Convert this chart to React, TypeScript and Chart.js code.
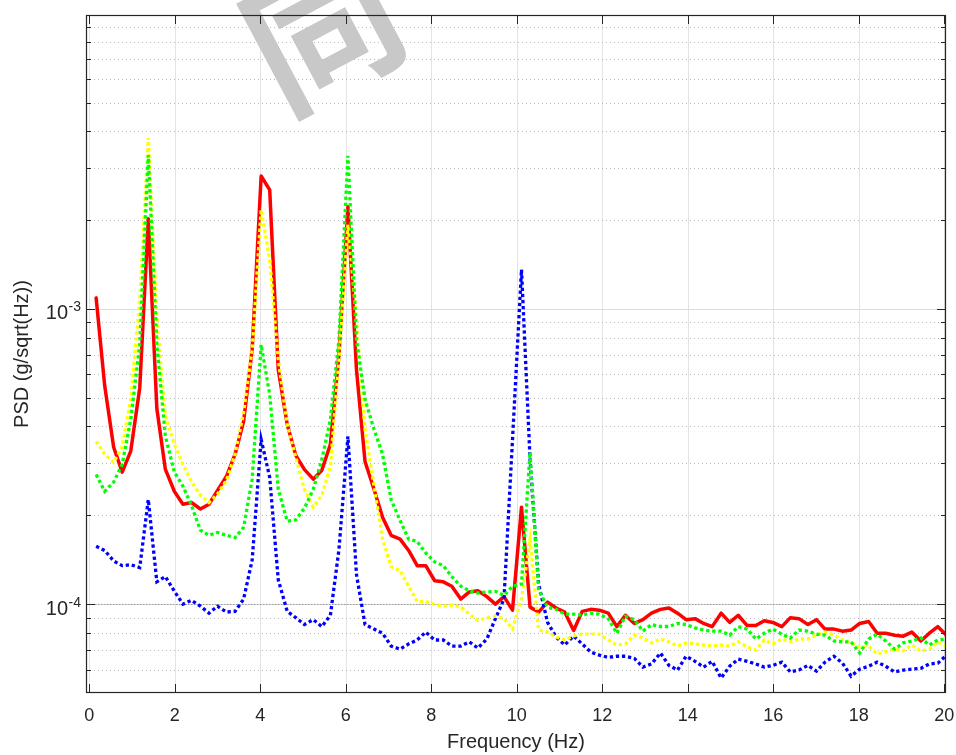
import React, { useEffect, useRef } from 'react';
import { Chart, registerables } from 'chart.js';

Chart.register(...registerables);

const FONT = '"Liberation Sans", Arial, Helvetica, sans-serif';

// Frequency bins (Hz)
const freqHz = [
  0.16, 0.36, 0.57, 0.77, 0.97, 1.18, 1.38, 1.58, 1.78, 1.99,
  2.19, 2.39, 2.60, 2.80, 3.00, 3.21, 3.41, 3.61, 3.81, 4.02,
  4.22, 4.42, 4.63, 4.83, 5.03, 5.24, 5.44, 5.64, 5.84, 6.05,
  6.25, 6.45, 6.66, 6.86, 7.06, 7.27, 7.47, 7.67, 7.87, 8.08,
  8.28, 8.48, 8.69, 8.89, 9.09, 9.30, 9.50, 9.70, 9.90, 10.11,
  10.31, 10.51, 10.72, 10.92, 11.12, 11.33, 11.53, 11.73, 11.93, 12.14,
  12.34, 12.54, 12.75, 12.95, 13.15, 13.36, 13.56, 13.76, 13.96, 14.17,
  14.37, 14.57, 14.78, 14.98, 15.18, 15.39, 15.59, 15.79, 15.99, 16.20,
  16.40, 16.60, 16.81, 17.01, 17.21, 17.42, 17.62, 17.82, 18.02, 18.23,
  18.43, 18.63, 18.84, 19.04, 19.24, 19.45, 19.65, 19.85, 20.05,
];

// PSD (g/sqrt(Hz)) - red solid
const psdRed = [
  10.9e-4, 5.5e-4, 3.4e-4, 2.8e-4, 3.3e-4, 5.4e-4, 20.2e-4, 4.6e-4, 2.86e-4, 2.41e-4,
  2.18e-4, 2.21e-4, 2.10e-4, 2.18e-4, 2.43e-4, 2.71e-4, 3.22e-4, 4.16e-4, 7.29e-4, 28.2e-4,
  25.3e-4, 6.23e-4, 4.06e-4, 3.19e-4, 2.86e-4, 2.65e-4, 2.84e-4, 3.48e-4, 7.01e-4, 22.2e-4,
  6.23e-4, 3.04e-4, 2.45e-4, 1.97e-4, 1.71e-4, 1.66e-4, 1.52e-4, 1.35e-4, 1.35e-4, 1.20e-4,
  1.19e-4, 1.15e-4, 1.04e-4, 1.10e-4, 1.11e-4, 1.06e-4, 1.00e-4, 1.06e-4, 0.954e-4, 2.13e-4,
  0.977e-4, 0.94e-4, 1.016e-4, 0.97e-4, 0.94e-4, 0.814e-4, 0.945e-4, 0.96e-4, 0.954e-4, 0.932e-4,
  0.839e-4, 0.917e-4, 0.86e-4, 0.886e-4, 0.932e-4, 0.96e-4, 0.97e-4, 0.932e-4, 0.886e-4, 0.893e-4,
  0.86e-4, 0.839e-4, 0.932e-4, 0.867e-4, 0.917e-4, 0.846e-4, 0.846e-4, 0.879e-4, 0.867e-4, 0.839e-4,
  0.9e-4, 0.893e-4, 0.853e-4, 0.886e-4, 0.823e-4, 0.823e-4, 0.81e-4, 0.817e-4, 0.86e-4, 0.873e-4,
  0.797e-4, 0.797e-4, 0.785e-4, 0.779e-4, 0.804e-4, 0.75e-4, 0.797e-4, 0.839e-4, 0.785e-4,
];

// green dotted
const psdGreen = [
  2.75e-4, 2.41e-4, 2.59e-4, 2.98e-4, 4.22e-4, 7.57e-4, 33.2e-4, 7.57e-4, 3.70e-4, 2.80e-4,
  2.51e-4, 2.16e-4, 1.78e-4, 1.71e-4, 1.75e-4, 1.71e-4, 1.68e-4, 1.82e-4, 2.65e-4, 7.57e-4,
  5.13e-4, 2.45e-4, 1.91e-4, 1.93e-4, 2.11e-4, 2.45e-4, 3.09e-4, 4.22e-4, 7.87e-4, 33.0e-4,
  7.87e-4, 4.94e-4, 3.91e-4, 3.22e-4, 2.26e-4, 1.92e-4, 1.66e-4, 1.63e-4, 1.49e-4, 1.39e-4,
  1.35e-4, 1.24e-4, 1.15e-4, 1.11e-4, 1.09e-4, 1.10e-4, 1.105e-4, 1.07e-4, 1.15e-4, 1.17e-4,
  3.27e-4, 1.12e-4, 0.977e-4, 0.96e-4, 0.925e-4, 0.925e-4, 0.917e-4, 0.932e-4, 0.925e-4, 0.893e-4,
  0.797e-4, 0.91e-4, 0.886e-4, 0.81e-4, 0.853e-4, 0.84e-4, 0.84e-4, 0.86e-4, 0.853e-4, 0.831e-4,
  0.817e-4, 0.81e-4, 0.81e-4, 0.785e-4, 0.839e-4, 0.823e-4, 0.762e-4, 0.797e-4, 0.823e-4, 0.791e-4,
  0.768e-4, 0.817e-4, 0.81e-4, 0.791e-4, 0.785e-4, 0.75e-4, 0.745e-4, 0.745e-4, 0.683e-4, 0.762e-4,
  0.791e-4, 0.75e-4, 0.704e-4, 0.739e-4, 0.75e-4, 0.768e-4, 0.727e-4, 0.756e-4, 0.762e-4,
];

// yellow dotted
const psdYellow = [
  3.56e-4, 3.22e-4, 3.02e-4, 3.42e-4, 4.93e-4, 10.7e-4, 38.0e-4, 9.35e-4, 4.36e-4, 3.48e-4,
  2.98e-4, 2.60e-4, 2.34e-4, 2.21e-4, 2.36e-4, 2.63e-4, 3.22e-4, 4.46e-4, 7.28e-4, 21.7e-4,
  14.7e-4, 6.74e-4, 4.06e-4, 3.14e-4, 2.45e-4, 2.13e-4, 2.34e-4, 2.93e-4, 6.74e-4, 19.3e-4,
  9.2e-4, 3.91e-4, 2.51e-4, 1.66e-4, 1.34e-4, 1.30e-4, 1.15e-4, 1.02e-4, 1.02e-4, 0.997e-4,
  0.984e-4, 0.992e-4, 0.977e-4, 0.925e-4, 0.88e-4, 0.9e-4, 0.91e-4, 0.893e-4, 0.823e-4, 1.04e-4,
  1.65e-4, 0.817e-4, 0.804e-4, 0.774e-4, 0.756e-4, 0.78e-4, 0.791e-4, 0.791e-4, 0.791e-4, 0.756e-4,
  0.727e-4, 0.733e-4, 0.785e-4, 0.768e-4, 0.739e-4, 0.762e-4, 0.745e-4, 0.721e-4, 0.739e-4, 0.733e-4,
  0.727e-4, 0.721e-4, 0.727e-4, 0.721e-4, 0.745e-4, 0.716e-4, 0.699e-4, 0.756e-4, 0.733e-4, 0.762e-4,
  0.745e-4, 0.762e-4, 0.762e-4, 0.785e-4, 0.804e-4, 0.785e-4, 0.756e-4, 0.739e-4, 0.716e-4, 0.721e-4,
  0.678e-4, 0.69e-4, 0.704e-4, 0.694e-4, 0.727e-4, 0.694e-4, 0.704e-4, 0.745e-4, 0.721e-4,
];

// blue dotted
const psdBlue = [
  1.57e-4, 1.52e-4, 1.40e-4, 1.35e-4, 1.36e-4, 1.33e-4, 2.26e-4, 1.19e-4, 1.24e-4, 1.106e-4,
  1.00e-4, 1.03e-4, 0.984e-4, 0.932e-4, 0.984e-4, 0.94e-4, 0.945e-4, 1.04e-4, 1.41e-4, 3.61e-4,
  2.69e-4, 1.21e-4, 0.945e-4, 0.9e-4, 0.853e-4, 0.886e-4, 0.839e-4, 0.917e-4, 1.53e-4, 3.70e-4,
  1.26e-4, 0.853e-4, 0.823e-4, 0.797e-4, 0.721e-4, 0.704e-4, 0.733e-4, 0.756e-4, 0.804e-4, 0.756e-4,
  0.756e-4, 0.721e-4, 0.721e-4, 0.745e-4, 0.71e-4, 0.762e-4, 0.893e-4, 1.04e-4, 3.61e-4, 13.6e-4,
  3.09e-4, 1.17e-4, 0.867e-4, 0.774e-4, 0.727e-4, 0.78e-4, 0.733e-4, 0.688e-4, 0.672e-4, 0.66e-4,
  0.666e-4, 0.666e-4, 0.655e-4, 0.612e-4, 0.627e-4, 0.683e-4, 0.62e-4, 0.598e-4, 0.666e-4, 0.64e-4,
  0.612e-4, 0.64e-4, 0.562e-4, 0.616e-4, 0.651e-4, 0.64e-4, 0.627e-4, 0.612e-4, 0.62e-4, 0.636e-4,
  0.589e-4, 0.598e-4, 0.62e-4, 0.593e-4, 0.636e-4, 0.666e-4, 0.631e-4, 0.57e-4, 0.602e-4, 0.616e-4,
  0.636e-4, 0.616e-4, 0.589e-4, 0.598e-4, 0.602e-4, 0.606e-4, 0.627e-4, 0.631e-4, 0.672e-4,
];

const xTicks = [0, 2, 4, 6, 8, 10, 12, 14, 16, 18, 20];
const yMajorTicks = [1e-4, 1e-3];
const yMajorExponents = ['-4', '-3'];
const yMinorTicks = [
  6e-5, 7e-5, 8e-5, 9e-5,
  2e-4, 3e-4, 4e-4, 5e-4, 6e-4, 7e-4, 8e-4, 9e-4,
  2e-3, 3e-3, 4e-3, 5e-3, 6e-3, 7e-3, 8e-3, 9e-3,
];

const AXIS_COLOR = '#262626';

export default function App() {
  const canvasRef = useRef<HTMLCanvasElement>(null);

  useEffect(() => {
    const canvas = canvasRef.current;
    if (!canvas) return;

    const toPoints = (ys: number[]) => freqHz.map((f, i) => ({ x: f, y: ys[i] }));

    const axesPlugin = {
      id: 'matlabAxes',
      beforeDatasetsDraw(chart: any) {
        const { ctx, chartArea, scales } = chart;
        const { left, right, top, bottom } = chartArea;
        const x = scales.x;
        const y = scales.y;
        ctx.save();
        ctx.lineWidth = 1;
        ctx.strokeStyle = '#e3e3e3';
        xTicks.forEach((v) => {
          const px = Math.round(x.getPixelForValue(v)) + 0.5;
          ctx.beginPath();
          ctx.moveTo(px, top);
          ctx.lineTo(px, bottom);
          ctx.stroke();
        });
        ctx.setLineDash([1, 3]);
        ctx.strokeStyle = '#b8b8b8';
        yMinorTicks.forEach((v) => {
          const py = Math.round(y.getPixelForValue(v)) + 0.5;
          ctx.beginPath();
          ctx.moveTo(left, py);
          ctx.lineTo(right, py);
          ctx.stroke();
        });
        yMajorTicks.forEach((v) => {
          const py = Math.round(y.getPixelForValue(v)) + 0.5;
          ctx.setLineDash([]);
          ctx.strokeStyle = '#dcdcdc';
          ctx.beginPath();
          ctx.moveTo(left, py);
          ctx.lineTo(right, py);
          ctx.stroke();
          if (v === 1e-4) {
            ctx.setLineDash([1.5, 1.5]);
            ctx.strokeStyle = '#9a9a9a';
            ctx.beginPath();
            ctx.moveTo(left, py);
            ctx.lineTo(right, py);
            ctx.stroke();
          }
        });
        ctx.restore();
      },
      afterDatasetsDraw(chart: any) {
        const { ctx, chartArea, scales } = chart;
        const { left, right, top, bottom } = chartArea;
        const x = scales.x;
        const y = scales.y;

        // watermark
        ctx.save();
        ctx.fillStyle = '#c8c8c8';
        ctx.font = 'bold 150px "Noto Sans CJK SC"';
        ctx.textBaseline = 'alphabetic';
        ctx.textAlign = 'left';
        ctx.translate(299, 118);
        ctx.rotate((-28 * Math.PI) / 180);
        ctx.fillText('同', -13, -10);
        ctx.restore();

        ctx.save();
        ctx.strokeStyle = AXIS_COLOR;
        ctx.lineWidth = 1.2;
        ctx.strokeRect(left + 0.5, top + 0.5, right - left - 1, bottom - top - 1);

        ctx.lineWidth = 1;
        xTicks.forEach((v) => {
          const px = Math.round(x.getPixelForValue(v)) + 0.5;
          ctx.beginPath();
          ctx.moveTo(px, bottom);
          ctx.lineTo(px, bottom - 9);
          ctx.moveTo(px, top);
          ctx.lineTo(px, top + 9);
          ctx.stroke();
        });
        yMajorTicks.forEach((v) => {
          const py = Math.round(y.getPixelForValue(v)) + 0.5;
          ctx.beginPath();
          ctx.moveTo(left, py);
          ctx.lineTo(left + 9, py);
          ctx.moveTo(right, py);
          ctx.lineTo(right - 9, py);
          ctx.stroke();
        });
        yMinorTicks.forEach((v) => {
          const py = Math.round(y.getPixelForValue(v)) + 0.5;
          ctx.beginPath();
          ctx.moveTo(left, py);
          ctx.lineTo(left + 5, py);
          ctx.moveTo(right, py);
          ctx.lineTo(right - 5, py);
          ctx.stroke();
        });

        ctx.fillStyle = AXIS_COLOR;
        ctx.textAlign = 'right';
        ctx.textBaseline = 'alphabetic';
        yMajorTicks.forEach((v, i) => {
          const py = y.getPixelForValue(v);
          const expText = yMajorExponents[i];
          ctx.font = `14px ${FONT}`;
          const ew = ctx.measureText(expText).width;
          const ex = left - 5;
          ctx.fillText(expText, ex, py + 2.5);
          ctx.font = `20px ${FONT}`;
          ctx.fillText('10', ex - ew - 0.5, py + 10.5);
        });
        ctx.restore();
      },
    };

    const dotted = (color: string) => ({
      borderColor: color,
      borderWidth: 3.3,
      borderDash: [3.3, 2.8],
      borderCapStyle: 'butt',
      pointRadius: 0,
      tension: 0,
      fill: false,
    });

    const chart = new Chart(canvas, {
      type: 'line',
      data: {
        datasets: [
          { label: 'green', data: toPoints(psdGreen), ...dotted('#00ff00') },
          { label: 'yellow', data: toPoints(psdYellow), ...dotted('#ffff00') },
          { label: 'blue', data: toPoints(psdBlue), ...dotted('#0000ff') },
          {
            label: 'red',
            data: toPoints(psdRed),
            borderColor: '#ff0000',
            borderWidth: 3.5,
            borderJoinStyle: 'round',
            borderCapStyle: 'round',
            pointRadius: 0,
            tension: 0,
            fill: false,
          },
        ],
      },
      options: {
        responsive: false,
        animation: false,
        events: [],
        layout: { padding: { left: 0, top: 15, right: 10, bottom: 0 } },
        plugins: {
          legend: { display: false },
          tooltip: { enabled: false },
        },
        scales: {
          x: {
            type: 'linear',
            min: -0.077,
            max: 20.04,
            grid: { display: false, drawTicks: false },
            border: { display: false },
            afterBuildTicks: (s: any) => {
              s.ticks = xTicks.map((v) => ({ value: v }));
            },
            afterFit: (s: any) => {
              s.height = 62;
              s.paddingLeft = 0;
              s.paddingRight = 0;
            },
            ticks: {
              color: AXIS_COLOR,
              font: { size: 18, family: FONT },
              padding: 12,
              maxRotation: 0,
              autoSkip: false,
              callback: (v: any) => String(v),
            },
            title: {
              display: true,
              text: 'Frequency (Hz)',
              color: AXIS_COLOR,
              font: { size: 20, family: FONT },
              padding: { top: 0, bottom: 1 },
            },
          },
          y: {
            type: 'logarithmic',
            min: 5e-5,
            max: 9.9e-3,
            grid: { display: false, drawTicks: false },
            border: { display: false },
            ticks: { display: false },
            afterFit: (s: any) => {
              s.width = 86;
              s.paddingTop = 0;
              s.paddingBottom = 0;
            },
            title: {
              display: true,
              text: 'PSD (g/sqrt(Hz))',
              color: AXIS_COLOR,
              font: { size: 20, family: FONT },
              padding: { top: 10, bottom: 0 },
            },
          },
        },
      } as any,
      plugins: [axesPlugin],
    });

    return () => chart.destroy();
  }, []);

  return (
    <div style={{ position: 'absolute', left: 0, top: 0, width: 956, height: 755, background: '#ffffff' }}>
      <canvas ref={canvasRef} width={956} height={755} style={{ display: 'block' }} />
    </div>
  );
}
